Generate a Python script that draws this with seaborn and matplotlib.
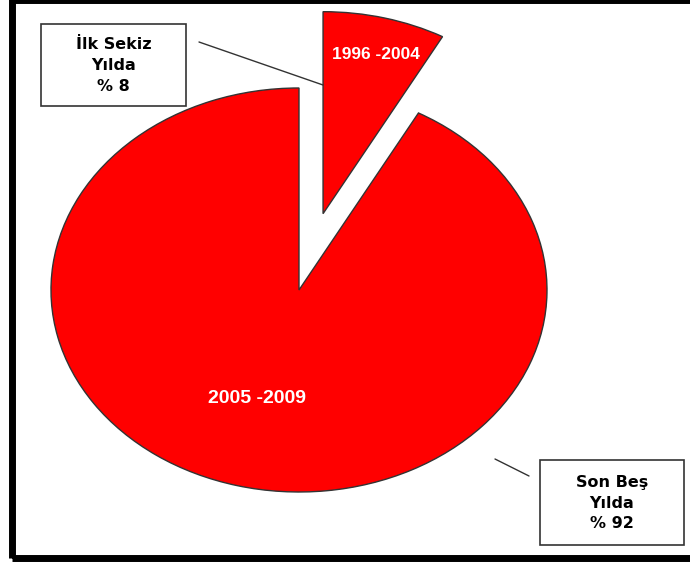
import matplotlib
matplotlib.use("Agg")
import matplotlib.pyplot as plt
from matplotlib.patches import Rectangle
from matplotlib.lines import Line2D
import seaborn as sns

# Share of the period, in percent
periods = ["1996 -2004", "2005 -2009"]
shares = [8, 92]
notes = ["İlk Sekiz\nYılda\n% 8", "Son Beş\nYılda\n% 92"]

sns.set_theme(style="white")
plt.rcParams["font.family"] = ["Liberation Sans", "DejaVu Sans"]

W, H = 690, 565
fig = plt.figure(figsize=(W / 100, H / 100), dpi=100)
fig.patch.set_facecolor("white")


def px(x, y):
    """Pixel position (from top-left) to figure fraction."""
    return x / W, 1 - y / H


ax = fig.add_axes([0, 0, 1, 1])
wedges, _ = ax.pie(
    shares,
    explode=[0.39, 0],
    startangle=90,
    counterclock=False,
    colors=["#FF0000", "#FF0000"],
    wedgeprops=dict(edgecolor="#333333", linewidth=1.0),
)
# Flattened (oval) pie
ax.set_aspect("auto")
ax.set_xlim(-1.2056, 1.5766)
ax.set_ylim(-1.3614, 1.4356)
ax.axis("off")

# Period names inside the slices
ax.text(0.31, 1.165, periods[0], color="white", fontsize=12.5, fontweight="bold",
        ha="center", va="center")
ax.text(-0.169, -0.535, periods[1], color="white", fontsize=14, fontweight="bold",
        ha="center", va="center")

# Note boxes with leader lines
boxes = [(41, 24, 186, 106), (540, 460, 684, 545)]
for (x0, y0, x1, y1), note in zip(boxes, notes):
    fx0, fy1 = px(x0, y1)
    fx1, fy0 = px(x1, y0)
    fig.patches.append(Rectangle((fx0, fy1), fx1 - fx0, fy0 - fy1,
                                 transform=fig.transFigure, facecolor="white",
                                 edgecolor="#333333", linewidth=1.2))
    cx, cy = px((x0 + x1) / 2, (y0 + y1) / 2 + 0.5)
    fig.text(cx, cy, note, ha="center", va="center", fontsize=11.5,
             fontweight="bold", color="black", linespacing=1.5,
             family=["DejaVu Sans"])

for (xa, ya), (xb, yb) in [((199, 42), (323, 85)), ((495, 459), (529, 476))]:
    a, b = px(xa, ya), px(xb, yb)
    fig.lines.append(Line2D([a[0], b[0]], [a[1], b[1]], transform=fig.transFigure,
                            color="#333333", linewidth=1.0))

# Outer frame
fx0, fy0 = px(11.5, 557.5)
fx1, fy1 = px(720, 0.0)
fig.patches.append(Rectangle((fx0, fy0), fx1 - fx0, fy1 - fy0,
                             transform=fig.transFigure, fill=False,
                             edgecolor="black", linewidth=5.0, clip_on=False))

fig.savefig("out.png", dpi=100)
